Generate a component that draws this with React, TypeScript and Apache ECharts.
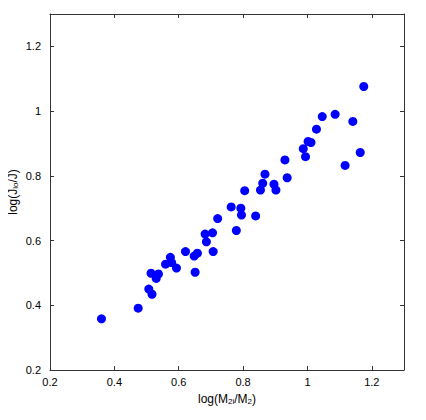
import React, { useEffect, useRef } from "react";
import * as echarts from "echarts";

const xValues = [
  0.36, 0.474, 0.507, 0.517, 0.514, 0.53, 0.537, 0.559, 0.574, 0.578, 0.593, 0.621,
  0.651, 0.648, 0.658, 0.707, 0.682, 0.705, 0.686, 0.779, 0.721, 0.763, 0.793, 0.795,
  1.175, 1.046, 1.086, 1.141, 1.028, 0.987, 1.002, 1.011, 0.994, 0.93, 0.937, 1.164,
  1.117, 0.868, 0.861, 0.854, 0.896, 0.902, 0.805, 0.839,
];
const yValues = [
  0.358, 0.391, 0.45, 0.434, 0.499, 0.483, 0.497, 0.527, 0.548, 0.532, 0.515, 0.566,
  0.502, 0.552, 0.561, 0.566, 0.62, 0.624, 0.596, 0.631, 0.668, 0.704, 0.7, 0.679,
  1.076, 0.983, 0.99, 0.968, 0.944, 0.884, 0.906, 0.903, 0.859, 0.849, 0.794, 0.872,
  0.832, 0.805, 0.777, 0.756, 0.774, 0.756, 0.754, 0.676,
];
const xTicks = [0.2, 0.4, 0.6, 0.8, 1.0, 1.2];
const yTicks = [0.2, 0.4, 0.6, 0.8, 1.0, 1.2];

const FONT = "Liberation Sans, Arial, Helvetica, sans-serif";

export default function App() {
  const ref = useRef<HTMLDivElement>(null);
  useEffect(() => {
    if (!ref.current) return;
    const chart = echarts.init(ref.current, null, { renderer: "svg" });
    const fmt = (v: number) => {
      const r = Math.round(v * 10) / 10;
      if (!xTicks.some((t) => Math.abs(t - r) < 1e-9) && !yTicks.some((t) => Math.abs(t - r) < 1e-9)) return "";
      return r === 1 ? "1" : String(r);
    };
    const lineStyle = { color: "#333", width: 1 };
    const base = {
      min: 0.2,
      max: 1.3,
      interval: 0.2,
      splitLine: { show: false },
      axisLine: { show: true, onZero: false, lineStyle },
      axisTick: { show: true, inside: true, length: 4, lineStyle },
    };
    const rich = {
      sub: { fontSize: 8, fontFamily: FONT, color: "#000", padding: [5, 0, 0, 0] },
      n: { fontSize: 12, fontFamily: FONT, color: "#000" },
    };
    chart.setOption({
      animation: false,
      backgroundColor: "#fff",
      grid: {
        left: 50,
        right: 22,
        top: 14,
        bottom: 50,
        containLabel: false,
        outerBoundsMode: "none",
      },
      xAxis: [
        {
          ...base,
          type: "value",
          position: "bottom",
          name: "{n|log(M}{sub|2i}{n|/M}{sub|2}{n|)}",
          nameLocation: "middle",
          nameGap: 22,
          nameMoveOverlap: false,
          nameTextStyle: { rich },
          axisLabel: {
            formatter: fmt,
            color: "#000",
            fontSize: 11,
            fontFamily: FONT,
            margin: 6,
          },
        },
        {
          ...base,
          type: "value",
          position: "top",
          axisLabel: { show: false },
        },
      ],
      yAxis: [
        {
          ...base,
          type: "value",
          position: "left",
          name: "{n|log(J}{sub|lo}{n|/J)}",
          nameLocation: "middle",
          nameGap: 31,
          nameMoveOverlap: false,
          nameTextStyle: { rich },
          axisLabel: {
            formatter: fmt,
            color: "#000",
            fontSize: 11,
            fontFamily: FONT,
            margin: 9,
          },
        },
        {
          ...base,
          type: "value",
          position: "right",
          axisLabel: { show: false },
        },
      ],
      series: [
        {
          type: "scatter",
          xAxisIndex: 0,
          yAxisIndex: 0,
          symbol: "circle",
          symbolSize: 9,
          itemStyle: { color: "#0000ff", opacity: 1 },
          data: xValues.map((x, i) => [x, yValues[i]]),
        },
      ],
    });
    return () => chart.dispose();
  }, []);
  return <div ref={ref} style={{ width: 426, height: 420, margin: -8 }} />;
}
